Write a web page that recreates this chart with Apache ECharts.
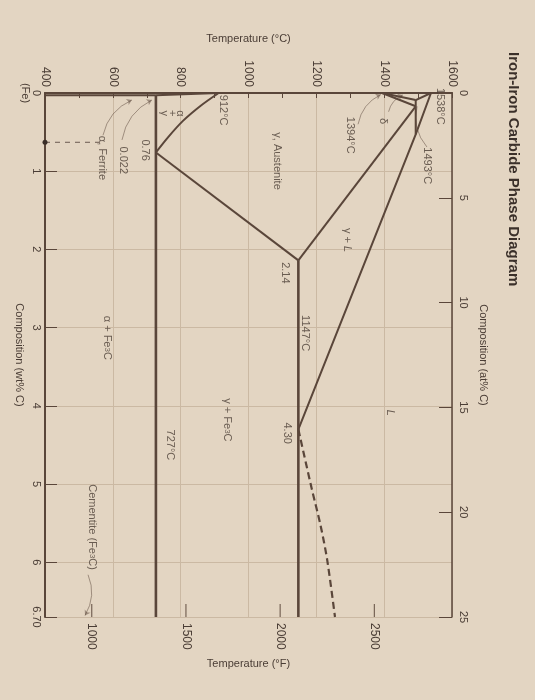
<!DOCTYPE html>
<html><head><meta charset="utf-8">
<script src="https://cdn.jsdelivr.net/npm/echarts@6/dist/echarts.min.js"></script>
<style>html,body{margin:0;padding:0;background:#e3d5c2}#c{width:535px;height:700px}</style>
</head><body><div id="c"></div>
<script>
// ---- axes ----
const tempMinC = 400, tempMaxC = 1600, tempStepC = 200;
const wtTickLabels = [0, 1, 2, 3, 4, 5, 6, 6.7];
const wtMax = 6.7;
const atMax = 25, atStep = 5;
const fahrenheitLabels = [1000, 1500, 2000, 2500];

// ---- phase boundaries: [temperature °C, composition wt% C] ----
const liquidus = [[1538, 0], [1493, 0.53], [1147, 4.30]];
const liquidusDashed = [[1147, 4.30], [1187, 5.07], [1212, 5.52], [1232, 5.97], [1255, 6.70]];
const gammaSolidus = [[1493, 0.17], [1147, 2.14]];
const eutecticLine = [[1147, 2.14], [1147, 6.70]];
const eutectoidLine = [[727, 0.03], [727, 6.70]];
const a3Line = [[912, 0], [860, 0.16], [806, 0.36], [762, 0.57], [727, 0.76]];
const acmLine = [[727, 0.76], [1147, 2.14]];
const alphaGammaLine = [[912, 0], [727, 0.03]];
const alphaSolvus = [[727, 0.03], [400, 0.03]];
const deltaSolidus = [[1538, 0], [1493, 0.09]];
const deltaGammaUpper = [[1394, 0], [1493, 0.09]];
const deltaGammaLower = [[1394, 0], [1493, 0.17]];
const peritecticLine = [[1493, 0.09], [1493, 0.53]];
const penLine = [[400, 0.63], [565, 0.63]];

// ---- annotations: [temperature °C, composition wt% C, text] ----
const annotations = [
  [1564, 0.17, '1538°C'],
  [1526, 0.93, '1493°C'],
  [1396, 0.36, 'δ'],
  [1299, 0.54, '1394°C'],
  [1084, 0.87, 'γ, Austenite'],
  [1290, 1.88, '{n|γ + }{i|L}'],
  [1417, 4.09, '{i|L}'],
  [1108, 2.30, '2.14'],
  [1166, 3.07, '1147°C'],
  [1113, 4.35, '4.30'],
  [937, 4.18, '{n|γ + Fe}{s|3}{n|C}'],
  [768, 4.50, '727°C'],
  [583, 3.13, '{n|α + Fe}{s|3}{n|C}'],
  [539, 5.55, '{n|Cementite (Fe}{s|3}{n|C)}'],
  [925, 0.22, '912°C'],
  [774, 0.26, 'α\n+\nγ'],
  [695, 0.73, '0.76'],
  [630, 0.86, '0.022'],
  [568, 0.83, 'α, Ferrite']
];
// leader lines: [from, to, hasArrow]
const leaders = [
  [[1323, 0.40], [1390, 0.02], true],
  [[1413, 0.24], [1455, 0.025], true],
  [[1526, 0.69], [1497, 0.17], false],
  [[627, 0.60], [715, 0.09], true],
  [[571, 0.54], [656, 0.09], true],
  [[527, 6.16], [518, 6.68], true]
];

const INK = '#5a463a', TXT = '#4a3d35', GRID = '#cbb9a3', FONT = '"Liberation Sans", Arial, sans-serif';
const cToF = c => c * 9 / 5 + 32;

function seg(data, extra) {
  return Object.assign({
    type: 'line', data: data, symbol: 'none', silent: true, animation: false,
    lineStyle: { color: INK, width: 2 }, z: 5
  }, extra || {});
}

const richStyles = {
  n: { fontSize: 11, color: TXT, fontFamily: FONT },
  i: { fontSize: 11, color: TXT, fontFamily: FONT, fontStyle: 'italic' },
  s: { fontSize: 8, color: TXT, fontFamily: FONT, verticalAlign: 'bottom', padding: [4, 0, 0, 0] }
};

const chart = echarts.init(document.getElementById('c'), null, { renderer: 'canvas' });
chart.setOption({
  backgroundColor: '#e3d5c2',
  animation: false,
  textStyle: { fontFamily: FONT },
  grid: { left: 45, right: 83, top: 93, bottom: 83, containLabel: false, outerBoundsMode: 'none' },
  graphic: [{
    type: 'text', x: 513, y: 52, rotation: -Math.PI / 2,
    style: { text: 'Iron-Iron Carbide Phase Diagram', font: 'bold 15px ' + FONT, fill: '#3b302a', textAlign: 'left', textVerticalAlign: 'middle' }
  }],
  xAxis: [{
    type: 'value', position: 'top', min: tempMinC, max: tempMaxC, interval: tempStepC,
    name: 'Temperature (°C)', nameLocation: 'middle', nameGap: 49, nameMoveOverlap: false,
    nameTextStyle: { fontSize: 11, color: TXT },
    axisLine: { show: true, lineStyle: { color: INK, width: 1.5 } },
    axisTick: { show: true, inside: true, length: 5, lineStyle: { color: INK } },
    minorTick: { show: true, splitNumber: 2, length: 5, lineStyle: { color: INK } },
    axisLabel: { rotate: -90, fontSize: 12, color: TXT, margin: 6, formatter: v => String(v) },
    splitLine: { show: true, lineStyle: { color: GRID, width: 1 } }
  }, {
    type: 'value', position: 'bottom', min: cToF(tempMinC), max: cToF(tempMaxC),
    name: 'Temperature (°F)', nameLocation: 'middle', nameGap: 41, nameMoveOverlap: false,
    nameTextStyle: { fontSize: 11, color: TXT },
    axisLine: { show: true, lineStyle: { color: INK, width: 2 } },
    axisTick: { show: false },
    axisLabel: { customValues: fahrenheitLabels, rotate: -90, fontSize: 12, color: TXT, margin: 6, formatter: v => String(v) },
    splitLine: { show: false }
  }],
  yAxis: [{
    type: 'value', position: 'left', inverse: true, min: 0, max: wtMax, interval: 1,
    name: 'Composition (wt% C)', nameLocation: 'middle', nameGap: 20, nameRotate: -90, nameMoveOverlap: false,
    nameTextStyle: { fontSize: 11, color: TXT },
    axisLine: { show: true, lineStyle: { color: INK, width: 2 } },
    axisTick: { show: true, inside: true, length: 12, lineStyle: { color: INK } },
    axisLabel: {
      customValues: wtTickLabels, rotate: -90, fontSize: 11, color: TXT, margin: 3,
      formatter: v => v === 0 ? '0\n(Fe)' : (v === 6.7 ? '6.70' : String(v))
    },
    splitLine: { show: true, lineStyle: { color: GRID, width: 1 } }
  }, {
    type: 'value', position: 'right', inverse: true, min: 0, max: atMax, interval: atStep,
    name: 'Composition (at% C)', nameLocation: 'middle', nameGap: 26, nameRotate: -90, nameMoveOverlap: false,
    nameTextStyle: { fontSize: 11, color: TXT },
    axisLine: { show: true, lineStyle: { color: INK, width: 1.5 } },
    axisTick: { show: true, inside: true, length: 13, lineStyle: { color: INK } },
    axisLabel: { rotate: -90, fontSize: 11, color: TXT, margin: 6 },
    splitLine: { show: false }
  }],
  series: [
    seg(liquidus),
    seg(liquidusDashed, { smooth: 0.3, lineStyle: { color: INK, width: 2.2, type: [7, 4] } }),
    seg(gammaSolidus),
    seg(eutecticLine, { lineStyle: { color: INK, width: 2.6 } }),
    seg(eutectoidLine, { lineStyle: { color: INK, width: 2.6 } }),
    seg(a3Line, { smooth: 0.3 }),
    seg(acmLine),
    seg(alphaGammaLine),
    seg(alphaSolvus),
    seg(deltaSolidus),
    seg(deltaGammaUpper),
    seg(deltaGammaLower),
    seg(peritecticLine),
    seg(penLine, { lineStyle: { color: '#6a5a50', width: 1, type: [5, 5] },
      symbol: 'circle', symbolSize: (v, p) => p.dataIndex === 0 ? 5 : 0,
      showSymbol: true, itemStyle: { color: '#3a2e28' } }),
    {
      // °F tick marks drawn at the bottom edge on the °F scale
      type: 'scatter', xAxisIndex: 1, yAxisIndex: 0, silent: true, animation: false, z: 4,
      data: fahrenheitLabels.map(f => [f, wtMax]),
      symbol: 'rect', symbolSize: [1.2, 13], symbolOffset: [0, -6.5],
      itemStyle: { color: INK }
    },
    {
      type: 'lines', coordinateSystem: 'cartesian2d', silent: true, animation: false, z: 6,
      data: leaders.map(l => ({
        coords: [l[0], l[1]], symbol: ['none', l[2] ? 'arrow' : 'none'], symbolSize: 5
      })),
      lineStyle: { color: INK, width: 1, curveness: 0.25 }
    },
    {
      type: 'scatter', silent: true, animation: false, symbolSize: 0, z: 7,
      data: annotations.map(a => ({ value: [a[0], a[1]], name: a[2] })),
      label: {
        show: true, position: 'inside', rotate: -90, fontSize: 11, color: TXT,
        align: 'center', verticalAlign: 'middle', lineHeight: 8,
        formatter: p => p.name, rich: richStyles
      }
    }
  ]
});
</script></body></html>
